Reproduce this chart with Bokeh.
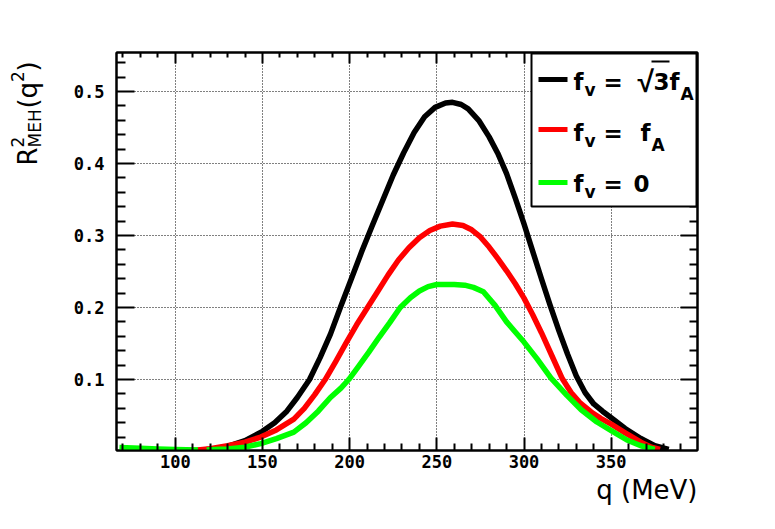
import math
from bokeh.plotting import figure
from bokeh.layouts import row
from bokeh.models import Range1d, FixedTicker, LinearAxis, Label, BoxAnnotation, Title
from bokeh.core.properties import value
from bokeh.embed import file_html
from bokeh.resources import INLINE

# ---------------- data ----------------
q_black = [112, 120, 130, 140, 150, 157, 164, 170, 177, 183, 189, 195, 201, 207, 213,
           219, 225, 231, 237, 243, 249, 255, 259, 264, 268, 274, 280, 285, 290, 295,
           300, 305, 310, 315, 320, 325, 330, 335, 340, 345, 350, 358, 367, 375, 383]
v_black = [0.001, 0.003, 0.007, 0.015, 0.028, 0.040, 0.056, 0.075, 0.100, 0.130, 0.163,
           0.202, 0.240, 0.278, 0.314, 0.349, 0.384, 0.415, 0.443, 0.465, 0.478, 0.484,
           0.485, 0.482, 0.476, 0.460, 0.437, 0.414, 0.386, 0.352, 0.316, 0.278, 0.240,
           0.203, 0.168, 0.135, 0.105, 0.082, 0.066, 0.056, 0.047, 0.032, 0.018, 0.008,
           0.003]

q_red = [105, 113, 120, 130, 140, 149, 158, 168, 174, 180, 186, 192, 198, 204, 210, 216,
         222, 228, 234, 240, 246, 252, 259, 265, 270, 275, 280, 285, 290, 295, 300, 305,
         310, 316, 322, 327, 332, 338.5, 344, 350, 358, 367, 373, 378]
v_red = [0.001, 0.002, 0.004, 0.008, 0.013, 0.020, 0.030, 0.045, 0.060, 0.079, 0.100,
         0.125, 0.151, 0.176, 0.199, 0.222, 0.245, 0.266, 0.283, 0.297, 0.307, 0.313,
         0.316, 0.314, 0.308, 0.298, 0.284, 0.268, 0.251, 0.233, 0.213, 0.190, 0.165,
         0.133, 0.101, 0.082, 0.068, 0.055, 0.046, 0.038, 0.026, 0.013, 0.006, 0.003]

q_green_a = [68, 80, 90, 100, 113]
v_green_a = [0.0056, 0.0045, 0.0035, 0.0028, 0.0020]
q_green_b = [118, 125, 130, 140, 149, 158, 168, 175, 182, 189, 195, 199.5, 205, 211, 217,
             223, 229, 235, 240, 245, 250, 260, 266, 271, 276.7, 283.4, 290, 295, 300,
             307.4, 315.5, 324.6, 332.8, 341.8, 350, 359, 367, 375]
v_green_b = [0.002, 0.003, 0.0035, 0.006, 0.011, 0.018, 0.027, 0.040, 0.056, 0.075,
             0.088, 0.100, 0.118, 0.138, 0.159, 0.179, 0.200, 0.214, 0.223, 0.229, 0.232,
             0.232, 0.231, 0.228, 0.222, 0.203, 0.180, 0.166, 0.152, 0.129, 0.102, 0.078,
             0.058, 0.041, 0.029, 0.016, 0.008, 0.003]

x_major = [100, 150, 200, 250, 300, 350]
x_minor = [70, 80, 90, 110, 120, 130, 140, 160, 170, 180, 190, 210, 220, 230, 240,
           260, 270, 280, 290, 310, 320, 330, 340, 360, 370, 380, 390]
y_major = [0.1, 0.2, 0.3, 0.4, 0.5]
y_minor = [0.02, 0.04, 0.06, 0.08, 0.12, 0.14, 0.16, 0.18, 0.22, 0.24, 0.26, 0.28,
           0.32, 0.34, 0.36, 0.38, 0.42, 0.44, 0.46, 0.48, 0.52, 0.54]

legend_colors = ["black", "#ff0000", "#00ff00"]
x_title = "q (MeV)"
y_title_parts = ["R", "2", "MEH", "(", "q", "2", ")"]

x_lo, x_hi = 66.3, 399.5
y_lo, y_hi = 0.0014, 0.5542

# ---------------- layout ----------------
H = 512
TW = 56                              # width of the strip holding the y title
FL, FT, FW, FH = 116, 52, 581, 398   # frame left/top/width/height in the picture
FRAME_X0 = FL
FRAME_Y0 = FT + FH
K = 0.38                             # Label baseline correction (fraction of font size)

p = figure(frame_width=FW, frame_height=FH,
           x_range=Range1d(x_lo, x_hi), y_range=Range1d(y_lo, y_hi),
           output_backend="svg", toolbar_location=None,
           min_border_left=FL - TW, min_border_top=FT,
           min_border_right=50, min_border_bottom=H - FT - FH,
           background_fill_color="white", border_fill_color="white")
p.outline_line_color = "black"
p.outline_line_width = 2

xt = FixedTicker(ticks=x_major, minor_ticks=x_minor)
yt = FixedTicker(ticks=y_major, minor_ticks=y_minor)

TICK_FONT = "DejaVu Sans Mono"


def style_axis(ax, ticker, major_in, minor_in, labels, standoff=4):
    ax.ticker = ticker
    ax.axis_line_color = "black"
    ax.axis_line_width = 2
    ax.major_tick_in = major_in
    ax.major_tick_out = 0
    ax.minor_tick_in = minor_in
    ax.minor_tick_out = 0
    ax.major_tick_line_width = 2
    ax.minor_tick_line_width = 2
    ax.major_tick_line_color = "black"
    ax.minor_tick_line_color = "black"
    ax.major_label_standoff = standoff
    if labels:
        ax.major_label_text_font = TICK_FONT
        ax.major_label_text_font_style = "bold"
        ax.major_label_text_font_size = "17px"
        ax.major_label_text_color = "black"
    else:
        ax.major_label_text_color = None


style_axis(p.below[0], xt, 13, 7, True, 4)
style_axis(p.left[0], yt, 18, 9, True, 12)
top_ax = LinearAxis()
right_ax = LinearAxis()
style_axis(top_ax, xt, 11, 5, False)
style_axis(right_ax, yt, 17, 8, False)
p.add_layout(top_ax, "above")
p.add_layout(right_ax, "right")

for g, t in ((p.xgrid[0], xt), (p.ygrid[0], yt)):
    g.ticker = t
    g.grid_line_color = "black"
    g.grid_line_width = 1
    g.grid_line_dash = "1 2"

LW = 5.5
p.line(q_black, v_black, line_color=legend_colors[0], line_width=LW, line_join="round")
p.line(q_red, v_red, line_color=legend_colors[1], line_width=LW, line_join="round")
p.line(q_green_a, v_green_a, line_color=legend_colors[2], line_width=LW, line_join="round")
p.line(q_green_b, v_green_b, line_color=legend_colors[2], line_width=LW, line_join="round")

# x axis title, right-aligned under the frame
p.add_layout(Title(text=x_title, align="right", text_font="DejaVu Sans",
                   text_font_size="26px", text_font_style="normal", text_color="black",
                   standoff=5), "below")


def sbox(left, right, top, bottom, fill, line=None, lw=1):
    """box in picture pixels (top-left origin)"""
    p.add_layout(BoxAnnotation(left=left - FRAME_X0, right=right - FRAME_X0,
                               top=FRAME_Y0 - top, bottom=FRAME_Y0 - bottom,
                               left_units="screen", right_units="screen",
                               top_units="screen", bottom_units="screen",
                               fill_color=fill, fill_alpha=1.0,
                               line_color=line, line_width=lw, line_alpha=1.0))


def ltext(txt, px, py, size, font="DejaVu Sans"):
    """bold legend text whose baseline starts at picture pixel (px, py)"""
    p.add_layout(Label(x=px - FRAME_X0, y=FRAME_Y0 - (py - K * size),
                       x_units="screen", y_units="screen",
                       text=txt, text_font=font, text_font_size=f"{size}px",
                       text_font_style="bold", text_color="black",
                       text_baseline="alphabetic", text_align="left"))


# legend frame and line samples
sbox(531, 696, 53, 206, "white", "black", 2)
for i, yc in enumerate([79, 129, 182]):
    sbox(538, 567, yc - 2.5, yc + 2.5, legend_colors[i])

# legend entry 1: f_v = sqrt(3) f_A
ltext("f", 573, 90, 23)
ltext("v", 584, 96, 17)
ltext("=", 603, 90, 23)
ltext("√", 637, 92, 30, font="Liberation Sans")
ltext("3", 653, 90, 23)
ltext("f", 669, 90, 23)
ltext("A", 680, 100, 17)
sbox(651, 669, 60, 62, "black")
# legend entry 2: f_v = f_A
ltext("f", 573, 141, 23)
ltext("v", 584, 147, 17)
ltext("=", 603, 141, 23)
ltext("f", 640, 141, 23)
ltext("A", 651, 151, 17)
# legend entry 3: f_v = 0
ltext("f", 573, 192, 23)
ltext("v", 584, 198, 17)
ltext("=", 603, 192, 23)
ltext("0", 633, 192, 23)

# strip on the left with the rotated y title R^2_MEH(q^2).
# Its frame has exactly the same vertical placement and y range as the main frame.
yfig = figure(frame_width=TW, frame_height=FH,
              x_range=Range1d(0, TW), y_range=Range1d(y_lo, y_hi),
              output_backend="svg", toolbar_location=None,
              min_border_left=0, min_border_right=0,
              min_border_top=FT, min_border_bottom=H - FT - FH,
              x_axis_location=None, y_axis_location=None,
              background_fill_color="white", border_fill_color="white")
yfig.outline_line_color = None
yfig.grid.visible = False


def y_of(py):
    return y_lo + (FRAME_Y0 - py) / FH * (y_hi - y_lo)


y_title_sizes = ["26px", "17px", "17px", "26px", "26px", "17px", "26px"]
part_base_x = [27, 17, 34, 27, 27, 17, 27]          # baseline, picture x
part_start_y = [165, 147, 147, 108, 98, 81.5, 71]   # text start, picture y
yfig.text(x=part_base_x, y=[y_of(v) for v in part_start_y], text=y_title_parts,
          text_font=value("DejaVu Sans"), text_font_size=y_title_sizes,
          text_color="black", text_baseline="alphabetic", text_align="left",
          angle=math.pi / 2)

layout = row(yfig, p)
open("out.html", "w").write(file_html(layout, INLINE))
